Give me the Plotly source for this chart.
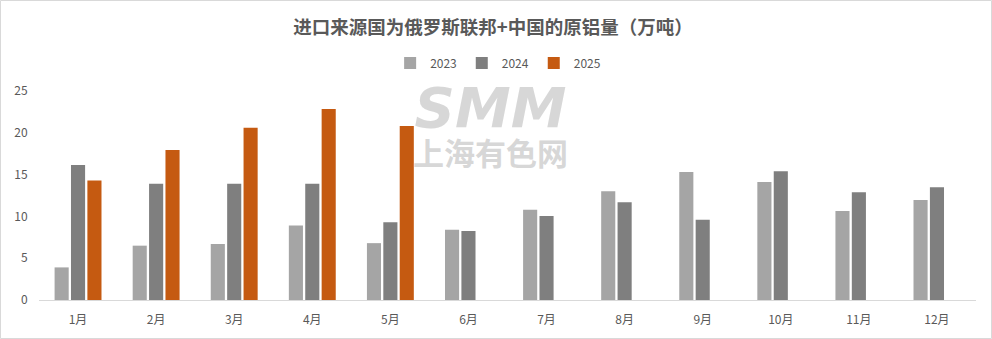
import plotly.graph_objects as go

months = ["1月", "2月", "3月", "4月", "5月", "6月", "7月", "8月", "9月", "10月", "11月", "12月"]
v2023 = [3.9, 6.5, 6.7, 8.9, 6.8, 8.4, 10.8, 13.0, 15.3, 14.1, 10.65, 11.95]
v2024 = [16.15, 13.9, 13.9, 13.9, 9.3, 8.25, 10.05, 11.7, 9.6, 15.4, 12.9, 13.5]
v2025 = [14.3, 17.95, 20.6, 22.85, 20.8, None, None, None, None, None, None, None]

series_names = ["2023", "2024", "2025"]
colors = ["#A5A5A5", "#7F7F7F", "#C55A11"]

title_text = "进口来源国为俄罗斯联邦+中国的原铝量（万吨）"
font_family = "Microsoft YaHei, Noto Sans CJK SC, sans-serif"
txt_color = "#595959"

fig = go.Figure()
for name, vals, c in zip(series_names, [v2023, v2024, v2025], colors):
    fig.add_trace(go.Bar(x=months, y=vals, name=name, marker_color=c, marker_line_width=0))

W, H = 992, 339
ml, mr, mt, mb = 39, 16, 91, 39
pw, ph = W - ml - mr, H - mt - mb

fig.update_layout(
    width=W, height=H,
    margin=dict(l=ml, r=mr, t=mt, b=mb),
    paper_bgcolor="white", plot_bgcolor="white",
    barmode="group", bargap=0.37, bargroupgap=0.14,
    font=dict(family=font_family, color=txt_color, size=12),
    title=dict(text="<b>" + title_text + "</b>", x=0.497, xanchor="center",
               y=1 - 28 / H, yanchor="middle",
               font=dict(size=18.5, color=txt_color, family=font_family)),
    legend=dict(orientation="h", x=0.49, xanchor="center", y=(ph + mt - 63) / ph,
                yanchor="middle", font=dict(size=12, color=txt_color),
                itemwidth=30, traceorder="normal"),
    xaxis=dict(showgrid=False, showline=True, linecolor="#D9D9D9", linewidth=1,
               ticks="outside", ticklen=9, tickcolor="rgba(0,0,0,0)",
               tickfont=dict(size=12, color=txt_color)),
    yaxis=dict(range=[0, 25], dtick=5, showgrid=False, zeroline=False, showline=False,
               ticks="outside", ticklen=8, tickcolor="rgba(0,0,0,0)",
               tickfont=dict(size=12, color=txt_color)),
    showlegend=True,
)

# outer chart border
fig.add_shape(type="rect", xref="paper", yref="paper",
              x0=(0.5 - ml) / pw, x1=(W - 0.5 - ml) / pw,
              y0=(ph + mt - (H - 0.5)) / ph, y1=(ph + mt - 0.5) / ph,
              line=dict(color="#D9D9D9", width=1), fillcolor="rgba(0,0,0,0)", layer="below")

# watermark
wm = ("<span style='font-size:56px;font-family:DejaVu Sans'><b><i>SMM</i></b></span><br>"
      "<span style='font-size:31px'><b>上海有色网</b></span>")
fig.add_annotation(text=wm, xref="paper", yref="paper",
                   x=(490 - ml) / pw, y=(ph + mt - 124) / ph, showarrow=False,
                   yanchor="middle",
                   font=dict(size=29, color="rgba(205,205,205,0.8)", family="Noto Sans CJK SC"))

fig.write_html("out.html")
